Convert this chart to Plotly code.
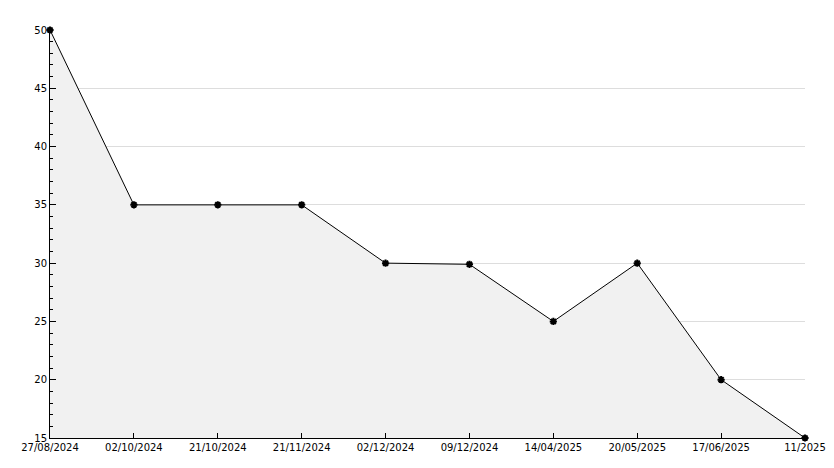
import plotly.graph_objects as go

dates = ["27/08/2024","02/10/2024","21/10/2024","21/11/2024","02/12/2024",
         "09/12/2024","14/04/2025","20/05/2025","17/06/2025","11/2025"]
values = [50, 35, 35, 35, 30, 29.9, 25, 30, 20, 15]
y_ticks = [15, 20, 25, 30, 35, 40, 45, 50]

fig = go.Figure(go.Scatter(
    x=list(range(len(dates))), y=values, mode="lines+markers",
    line=dict(color="black", width=1), cliponaxis=False,
    marker=dict(symbol="asterisk", size=6, color="black", line=dict(color="black", width=2)),
    fill="tozeroy", fillcolor="#f1f1f1", hoverinfo="skip"))

fig.update_layout(
    width=834, height=468, margin=dict(l=42, r=37, t=22, b=38),
    plot_bgcolor="white", paper_bgcolor="white", showlegend=False,
    font=dict(family="DejaVu Sans", size=10, color="black"),
    xaxis=dict(range=[0, len(dates)-1], tickvals=list(range(len(dates))), ticktext=dates,
               showgrid=False, zeroline=False, showline=True, linecolor="black",
               ticks="inside", ticklen=5, tickcolor="black", automargin=False),
    yaxis=dict(range=[15, 50], tickvals=y_ticks, showgrid=True, gridcolor="#dddddd",
               zeroline=False, showline=True, linecolor="black", automargin=False,
               ticks="inside", ticklen=6, tickcolor="black",
               minor=dict(dtick=1, ticks="inside", ticklen=3, tickcolor="black", showgrid=False)),
)
fig.write_html("out.html")
